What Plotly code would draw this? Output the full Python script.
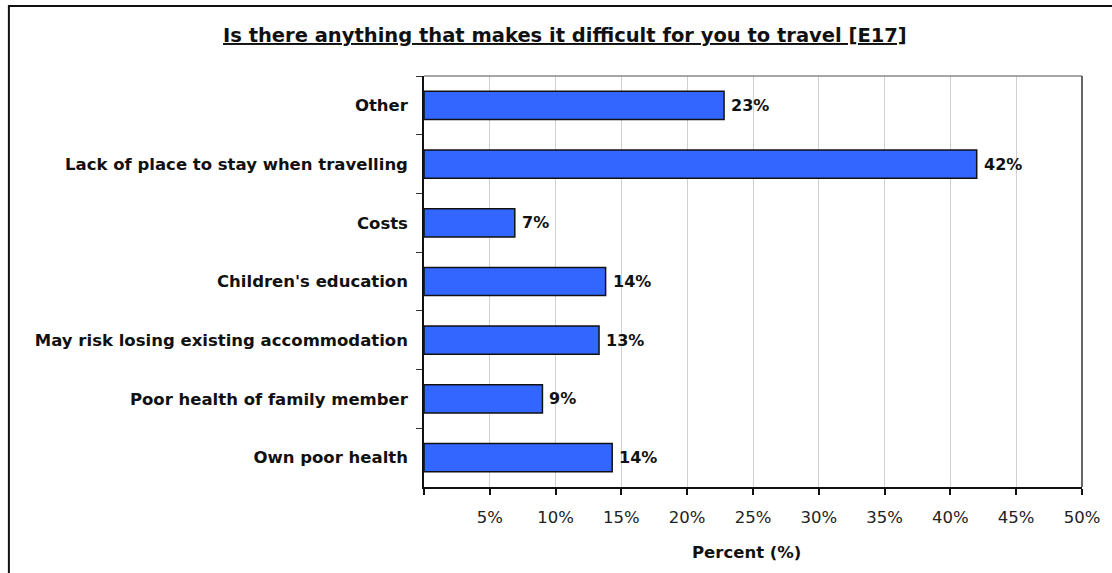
import plotly.graph_objects as go

categories = [
    "Other",
    "Lack of place to stay when travelling",
    "Costs",
    "Children's education",
    "May risk losing existing accommodation",
    "Poor health of family member",
    "Own poor health",
]
values = [22.8, 42.0, 6.9, 13.8, 13.3, 9.0, 14.3]
labels = ["23%", "42%", "7%", "14%", "13%", "9%", "14%"]
x_ticks = [0, 5, 10, 15, 20, 25, 30, 35, 40, 45, 50]
x_tick_text = ["", "5%", "10%", "15%", "20%", "25%", "30%", "35%", "40%", "45%", "50%"]
title_text = "Is there anything that makes it difficult for you to travel [E17]"
x_title = "Percent (%)"

FONT = "'DejaVu Sans', Arial, sans-serif"
W, H = 1112, 573
L, R, T, B = 424, 27, 76, 86
PW, PH = W - L - R, H - T - B


def px_x(p):
    return (p - L) / PW


def px_y(p):
    return (H - B - p) / PH


fig = go.Figure()
fig.add_trace(go.Bar(
    y=categories,
    x=values,
    orientation="h",
    marker=dict(color="#3366FF", line=dict(color="#111111", width=1.5)),
    hoverinfo="skip",
    showlegend=False,
))

annotations = []
for c, v, lab in zip(categories, values, labels):
    annotations.append(dict(
        x=v, y=c, xref="x", yref="y", text="<b>" + lab + "</b>",
        showarrow=False, xanchor="left", yanchor="middle", xshift=5,
        font=dict(family=FONT, size=16, color="#111111"),
    ))

annotations.append(dict(
    x=px_x(566), y=px_y(35), xref="paper", yref="paper",
    text="<b><u>" + title_text + "</u></b>",
    showarrow=False, xanchor="center", yanchor="middle",
    font=dict(family=FONT, size=19.5, color="#111111"),
))
annotations.append(dict(
    x=px_x(748), y=px_y(552), xref="paper", yref="paper",
    text="<b>" + x_title + "</b>",
    showarrow=False, xanchor="center", yanchor="middle",
    font=dict(family=FONT, size=16.5, color="#111111"),
))

shapes = [
    # outer chart border
    dict(type="rect", xref="paper", yref="paper",
         x0=px_x(7), x1=px_x(1200), y0=px_y(700), y1=px_y(6),
         line=dict(color="#111111", width=2), layer="above"),
    # plot area top and right border
    dict(type="line", xref="paper", yref="paper", x0=0, x1=1, y0=1, y1=1,
         line=dict(color="#888888", width=1.5), layer="above"),
    dict(type="line", xref="paper", yref="paper", x0=1, x1=1, y0=0, y1=1,
         line=dict(color="#666666", width=2), layer="above"),
]

fig.update_layout(
    width=W, height=H,
    margin=dict(l=L, r=R, t=T, b=B, pad=0),
    paper_bgcolor="white", plot_bgcolor="white",
    bargap=0.52,
    annotations=annotations,
    shapes=shapes,
    font=dict(family=FONT, size=16, color="#111111"),
    xaxis=dict(
        range=[0, 50], tickvals=x_ticks, ticktext=x_tick_text,
        showgrid=True, gridcolor="#d0d0d0", gridwidth=1,
        showline=True, linecolor="#111111", linewidth=1.5,
        ticks="outside", ticklen=6, tickcolor="#111111", tickwidth=1.5,
        tickfont=dict(family=FONT, size=16.5, color="#222222"),
        ticklabelstandoff=8,
        zeroline=False, fixedrange=True,
    ),
    yaxis=dict(
        autorange="reversed", type="category",
        showline=True, linecolor="#111111", linewidth=1.5,
        ticks="outside", ticklen=6, tickcolor="#333333", tickwidth=1,
        tickson="boundaries",
        tickfont=dict(family=FONT, size=16.5, color="#111111", weight="bold"),
        ticklabelstandoff=11,
        showgrid=False, fixedrange=True,
    ),
)

fig.write_html(
    "out.html",
    config={"displayModeBar": False},
    post_script="document.body.style.margin='0';document.body.style.overflow='hidden';",
)
